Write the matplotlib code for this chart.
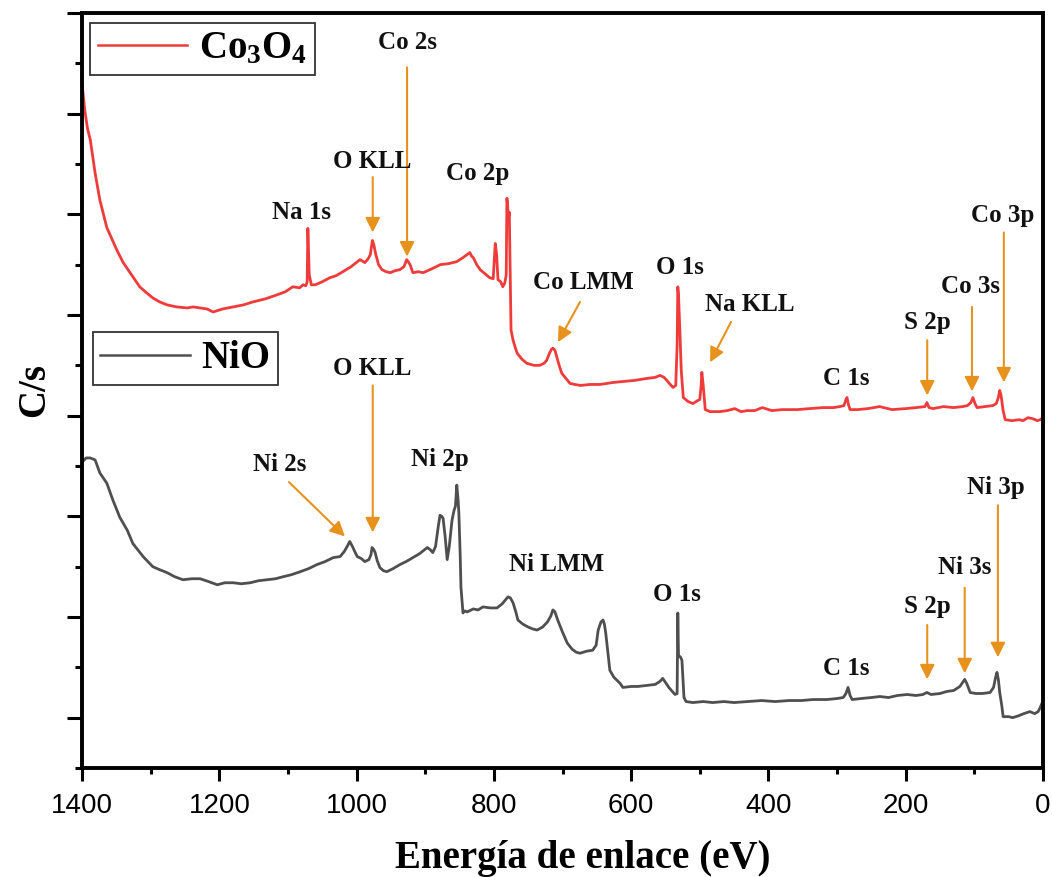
import matplotlib
matplotlib.use("Agg")
import matplotlib.pyplot as plt
from matplotlib.ticker import MultipleLocator
from matplotlib.lines import Line2D

# XPS survey spectra (binding energy in eV, counts in offset arbitrary units)
co_ev = [1400, 1396, 1392, 1388, 1381, 1374, 1364, 1349, 1340, 1330, 1316, 1306, 1297, 1287,
         1276, 1262, 1247, 1238, 1228, 1218, 1209, 1195, 1180, 1165, 1151, 1133, 1116, 1104,
         1093, 1083, 1078, 1074, 1072, 1071, 1069, 1066, 1060, 1050, 1039, 1030, 1020, 1008,
         995, 988, 983, 980, 977, 975, 972, 968, 963, 957, 951, 944, 937, 931, 927, 922, 918,
         910, 903, 890, 878, 866, 854, 845, 835, 832, 830, 825, 820, 813, 806, 801, 798, 796,
         794, 790, 787, 784, 782, 781, 780, 779, 777.5, 776, 775, 772, 769, 766, 759, 752, 742,
         733, 727, 723, 719, 716, 714, 711, 707, 704, 701, 695, 689, 682, 674, 660, 645, 626,
         610, 595, 577, 565, 558, 552, 548, 543, 539, 535, 533, 532, 531, 529, 527, 524, 517,
         510, 503, 500, 498, 497, 495, 492, 485, 471, 460, 449, 440, 431, 420, 409, 395, 380,
         358, 340, 320, 305, 296, 290, 287, 285.5, 283, 281, 270, 255, 238, 220, 200, 185, 172,
         169, 166, 160, 145, 130, 117, 110, 105, 102, 99, 96, 85, 73, 68, 65, 63, 61, 58, 55,
         45, 35, 29, 22, 15, 8, 4, 0]
co_cps = [6.30, 6.03, 5.85, 5.74, 5.41, 5.14, 4.87, 4.64, 4.52, 4.42, 4.28, 4.22, 4.17, 4.13,
          4.10, 4.08, 4.07, 4.08, 4.07, 4.06, 4.03, 4.06, 4.08, 4.10, 4.13, 4.16, 4.20, 4.23,
          4.28, 4.27, 4.30, 4.29, 4.33, 4.86, 4.40, 4.30, 4.30, 4.33, 4.37, 4.39, 4.43, 4.48,
          4.55, 4.52, 4.56, 4.60, 4.74, 4.70, 4.60, 4.50, 4.45, 4.43, 4.42, 4.44, 4.45, 4.48,
          4.55, 4.50, 4.42, 4.43, 4.42, 4.46, 4.50, 4.51, 4.53, 4.57, 4.62, 4.58, 4.57, 4.50,
          4.45, 4.41, 4.37, 4.36, 4.71, 4.60, 4.35, 4.33, 4.28, 4.32, 4.40, 5.16, 5.10, 4.95,
          5.02, 4.30, 3.85, 3.75, 3.68, 3.62, 3.56, 3.52, 3.50, 3.50, 3.52, 3.55, 3.62, 3.66,
          3.67, 3.65, 3.55, 3.48, 3.42, 3.37, 3.32, 3.31, 3.30, 3.31, 3.31, 3.33, 3.34, 3.35,
          3.37, 3.38, 3.40, 3.38, 3.35, 3.31, 3.28, 3.30, 3.70, 4.28, 4.20, 3.85, 3.45, 3.18,
          3.14, 3.12, 3.15, 3.16, 3.30, 3.43, 3.30, 3.06, 3.04, 3.04, 3.05, 3.07, 3.04, 3.05,
          3.05, 3.08, 3.05, 3.06, 3.06, 3.07, 3.08, 3.08, 3.09, 3.10, 3.16, 3.18, 3.10, 3.06,
          3.06, 3.07, 3.09, 3.06, 3.07, 3.08, 3.09, 3.13, 3.08, 3.07, 3.09, 3.08, 3.09, 3.10,
          3.13, 3.18, 3.12, 3.08, 3.09, 3.10, 3.12, 3.18, 3.25, 3.20, 3.05, 2.96, 2.95, 2.96,
          2.95, 2.98, 2.97, 2.95, 2.96, 2.98]

ni_ev = [1400, 1394, 1388, 1381, 1374, 1364, 1355, 1345, 1334, 1326, 1318, 1311, 1297, 1287,
         1276, 1265, 1253, 1240, 1228, 1215, 1203, 1192, 1180, 1168, 1155, 1143, 1130, 1118,
         1107, 1095, 1082, 1070, 1058, 1046, 1034, 1024, 1018, 1013, 1010, 1006, 1002, 999,
         993, 988, 982, 979, 977.5, 975, 973, 970, 966, 961, 956, 947, 937, 928, 918, 908,
         897, 893, 889, 885, 881, 878.5, 876, 874, 871, 868, 865, 861, 858, 856, 854, 852,
         851, 849, 848, 845, 842, 839, 830, 823, 816, 805, 795.5, 788, 782, 779.4, 776, 772,
         768, 765, 758, 750, 743, 737, 729, 722, 717, 714, 711, 707, 700, 693, 686, 680,
         674.5, 665, 656, 651, 648, 644, 641, 639, 637, 634, 631, 625, 616, 612, 600, 590,
         577, 565, 558, 554, 550, 545, 540, 536, 533, 532, 531, 528, 526, 523, 520, 510, 495,
         481, 465, 450, 431, 410, 390, 370, 352, 335, 315, 300, 291, 287, 284, 281, 278, 265,
         250, 237.5, 225, 212, 198, 185, 175, 169, 163, 150, 140, 130, 121, 117, 114, 111,
         106, 98, 88, 77, 72, 69, 67, 65, 63, 60, 58, 50, 44, 35, 28, 19, 12, 7, 4, 1]
ni_cps = [2.54, 2.58, 2.58, 2.56, 2.43, 2.33, 2.16, 1.99, 1.86, 1.73, 1.66, 1.60, 1.50, 1.47,
          1.44, 1.40, 1.37, 1.38, 1.38, 1.35, 1.32, 1.34, 1.34, 1.33, 1.34, 1.36, 1.37, 1.38,
          1.40, 1.42, 1.45, 1.48, 1.52, 1.55, 1.59, 1.60, 1.65, 1.71, 1.75, 1.70, 1.64, 1.60,
          1.58, 1.55, 1.57, 1.62, 1.69, 1.67, 1.64, 1.56, 1.49, 1.46, 1.45, 1.48, 1.52, 1.55,
          1.59, 1.63, 1.69, 1.67, 1.64, 1.70, 1.90, 2.01, 2.00, 1.98, 1.80, 1.57, 1.70, 1.96,
          2.06, 2.10, 2.31, 2.15, 2.03, 1.60, 1.30, 1.04, 1.06, 1.05, 1.08, 1.07, 1.10, 1.09,
          1.09, 1.13, 1.18, 1.20, 1.19, 1.14, 1.05, 0.97, 0.93, 0.90, 0.88, 0.87, 0.90, 0.95,
          1.01, 1.07, 1.05, 0.97, 0.85, 0.74, 0.68, 0.65, 0.64, 0.66, 0.67, 0.72, 0.87, 0.95,
          0.97, 0.93, 0.84, 0.65, 0.47, 0.40, 0.34, 0.30, 0.31, 0.31, 0.32, 0.33, 0.36, 0.39,
          0.35, 0.30, 0.26, 0.23, 0.24, 1.04, 0.62, 0.60, 0.57, 0.20, 0.16, 0.15, 0.16, 0.15,
          0.16, 0.15, 0.16, 0.17, 0.16, 0.17, 0.17, 0.18, 0.18, 0.19, 0.20, 0.24, 0.30, 0.22,
          0.18, 0.19, 0.20, 0.21, 0.20, 0.22, 0.23, 0.22, 0.23, 0.25, 0.23, 0.24, 0.26, 0.27,
          0.31, 0.35, 0.38, 0.34, 0.25, 0.24, 0.24, 0.25, 0.30, 0.40, 0.45, 0.38, 0.25, 0.12,
          0.01, 0.01, 0.00, 0.02, 0.04, 0.06, 0.04, 0.06, 0.10, 0.15]

RED = "#f03b3b"
GRAY = "#4f4f4f"
ORANGE = "#e8921e"
SERIF = "Liberation Serif"

# peak labels: text, text position (eV, y), arrow tail and tip (or None)
co_labels = [
    ("Co 2s", (926.5, 6.71), (926.5, 6.46), (926.5, 4.58)),
    ("O KLL", (977.5, 5.52), (976.5, 5.37), (976.5, 4.82)),
    ("Co 2p", (823, 5.41), None, None),
    ("Na 1s", (1080, 5.02), None, None),
    ("Co LMM", (670, 4.32), (674.5, 4.13), (706.6, 3.73)),
    ("O 1s", (529, 4.47), None, None),
    ("Na KLL", (427, 4.10), (454.5, 3.93), (485, 3.53)),
    ("C 1s", (287, 3.37), None, None),
    ("S 2p", (169, 3.93), (168.6, 3.75), (168.6, 3.20)),
    ("Co 3s", (106, 4.28), (103.4, 4.08), (103.4, 3.24)),
    ("Co 3p", (58.3, 4.99), (57, 4.82), (57, 3.33)),
]
ni_labels = [
    ("O KLL", (977.5, 3.47), (976.5, 3.30), (976.5, 1.84)),
    ("Ni 2s", (1111.5, 2.51), (1098.5, 2.34), (1017, 1.80)),
    ("Ni 2p", (878.5, 2.56), None, None),
    ("Ni LMM", (708, 1.52), None, None),
    ("O 1s", (533, 1.22), None, None),
    ("C 1s", (287, 0.49), None, None),
    ("S 2p", (169, 1.10), (168.6, 0.92), (168.6, 0.38)),
    ("Ni 3s", (114, 1.49), (114, 1.29), (114, 0.44)),
    ("Ni 3p", (68.5, 2.29), (65.6, 2.11), (65.6, 0.60)),
]

plt.rcParams["mathtext.fontset"] = "custom"
plt.rcParams["mathtext.rm"] = "Liberation Serif:bold"
plt.rcParams["mathtext.it"] = "Liberation Serif:bold"
plt.rcParams["mathtext.bf"] = "Liberation Serif:bold"

fig = plt.figure(figsize=(10.52, 8.77), dpi=100)
ax = fig.add_axes([0.078, 0.1243, 0.9134, 0.8609])

ax.plot(co_ev, co_cps, color=RED, lw=2.0)
ax.plot(ni_ev, ni_cps, color=GRAY, lw=2.0)

for name, txt, tail, tip in co_labels + ni_labels:
    ax.text(txt[0], txt[1], name, ha="center", va="center",
            family=SERIF, weight="bold", fontsize=18, color="#111111")
    if tail is not None:
        ax.annotate("", xy=tip, xytext=tail,
                    arrowprops=dict(arrowstyle="-|>", color=ORANGE, lw=1.5,
                                    mutation_scale=22, shrinkA=0, shrinkB=0))

ax.set_xlim(1400, 0)
ax.set_ylim(-0.5, 7.0)
ax.xaxis.set_major_locator(MultipleLocator(200))
ax.xaxis.set_minor_locator(MultipleLocator(100))
ax.yaxis.set_major_locator(MultipleLocator(1))
ax.yaxis.set_minor_locator(MultipleLocator(0.5))
ax.tick_params(which="both", direction="out", width=2.2, top=False, right=False)
ax.tick_params(axis="y", which="major", length=11)
ax.tick_params(axis="y", which="minor", length=5)
ax.tick_params(axis="x", which="major", length=9, pad=9)
ax.tick_params(axis="x", which="minor", length=4)
ax.set_yticklabels([])
for lab in ax.get_xticklabels():
    lab.set_family("Liberation Sans")
    lab.set_fontsize(20)
for sp in ax.spines.values():
    sp.set_linewidth(2.8)

ax.set_xlabel("Energía de enlace (eV)", family=SERIF, weight="bold", fontsize=28)
ax.xaxis.set_label_coords(0.521, -0.096)
ax.set_ylabel("C/s", family=SERIF, weight="bold", fontsize=28, labelpad=6)

legend_font = dict(family=SERIF, weight="bold", size=28)
leg_kw = dict(loc="upper left", prop=legend_font, frameon=True, fancybox=False,
              framealpha=1, edgecolor="#333333", borderpad=0.2, handlelength=2.3,
              handletextpad=0.3, borderaxespad=0)
leg1 = ax.legend([Line2D([], [], color=RED, lw=1.8)], [r"Co$_3$O$_4$"],
                 bbox_to_anchor=(0.008, 0.987), **leg_kw)
leg1.get_frame().set_linewidth(1.3)
ax.add_artist(leg1)
leg2 = ax.legend([Line2D([], [], color=GRAY, lw=1.8)], ["NiO"],
                 bbox_to_anchor=(0.011, 0.577), **leg_kw)
leg2.get_frame().set_linewidth(1.3)

fig.savefig("out.png", dpi=100)
